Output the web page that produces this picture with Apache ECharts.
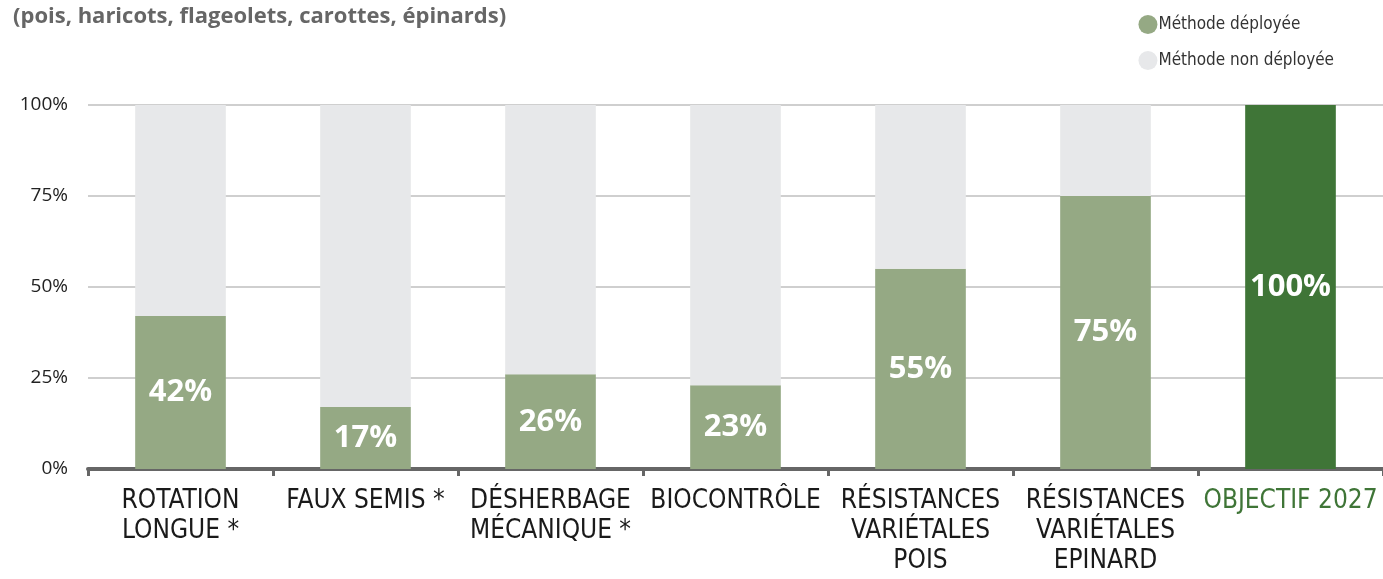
<!DOCTYPE html>
<html>
<head>
<meta charset="utf-8">
<script src="https://cdn.jsdelivr.net/npm/echarts@6/dist/echarts.min.js"></script>
<style>
  html, body { margin: 0; padding: 0; background: #fff; }
  #chart { width: 1383px; height: 579px; }
</style>
</head>
<body>
<div id="chart"></div>
<script>
// categories (x axis)
const categories = [
  'ROTATION\nLONGUE *',
  'FAUX SEMIS *',
  'DÉSHERBAGE\nMÉCANIQUE *',
  'BIOCONTRÔLE',
  'RÉSISTANCES\nVARIÉTALES\nPOIS',
  'RÉSISTANCES\nVARIÉTALES\nEPINARD',
  'OBJECTIF 2027'
]
// part de la méthode déployée (%)
const deployed = [42, 17, 26, 23, 55, 75, 100]
// reste jusqu'à 100 %
const notDeployed = deployed.map(v => 100 - v)
const yTicks = [0, 25, 50, 75, 100]

const chart = echarts.init(document.getElementById('chart'))

const greenLight = '#95a984'
const greenDark = '#3f7537'
const grey = '#e7e8ea'
const narrow = '"DejaVu Sans Condensed", "Liberation Sans Narrow", "Noto Sans", sans-serif'

let option = {
  animation: false,
  title: {
    text: '(pois, haricots, flageolets, carottes, épinards)',
    left: 8,
    top: 1,
    textStyle: {
      fontFamily: 'Open Sans',
      fontWeight: 'bold',
      fontSize: 22,
      color: '#666'
    }
  },
  legend: {
    orient: 'vertical',
    right: 44,
    top: 10,
    itemGap: 17,
    itemWidth: 19,
    itemHeight: 19,
    icon: 'circle',
    textStyle: {
      fontFamily: narrow,
      fontSize: 17,
      color: '#333',
      padding: [0, 0, 0, -4]
    },
    data: ['Méthode déployée', 'Méthode non déployée']
  },
  grid: {
    left: 88,
    width: 1298,
    top: 105,
    bottom: 110
  },
  xAxis: {
    type: 'category',
    data: categories,
    axisLine: { lineStyle: { color: '#666', width: 4 } },
    axisTick: { show: true, length: 7, lineStyle: { color: '#666', width: 3 } },
    axisLabel: {
      margin: 17,
      fontFamily: narrow,
      fontSize: 26,
      lineHeight: 30,
      color: '#1a1a1a',
      interval: 0,
      formatter: (v, i) => i === 6 ? '{g|' + v + '}' : v,
      rich: {
        g: {
          fontFamily: narrow,
          fontSize: 26,
          lineHeight: 30,
          color: greenDark
        }
      }
    }
  },
  yAxis: {
    type: 'value',
    min: 0,
    max: 100,
    interval: 25,
    axisLine: { show: false },
    axisTick: { show: false },
    splitLine: { lineStyle: { color: '#cfcfcf', width: 2 } },
    axisLabel: {
      margin: 20,
      fontFamily: 'Open Sans',
      fontSize: 19,
      color: '#222',
      formatter: v => yTicks.includes(v) ? v + '%' : ''
    }
  },
  series: [
    {
      name: 'Méthode déployée',
      type: 'bar',
      stack: 'total',
      barWidth: '49%',
      itemStyle: { color: greenLight },
      data: deployed.map((v, i) => ({
        value: v,
        itemStyle: { color: i === 6 ? greenDark : greenLight }
      })),
      label: {
        show: true,
        position: 'inside',
        formatter: '{c}%',
        fontFamily: 'Open Sans',
        fontWeight: 'bold',
        fontSize: 31,
        color: '#fff'
      }
    },
    {
      name: 'Méthode non déployée',
      type: 'bar',
      stack: 'total',
      barWidth: '49%',
      itemStyle: { color: grey },
      data: notDeployed
    }
  ]
}

chart.setOption(option)
</script>
</body>
</html>
